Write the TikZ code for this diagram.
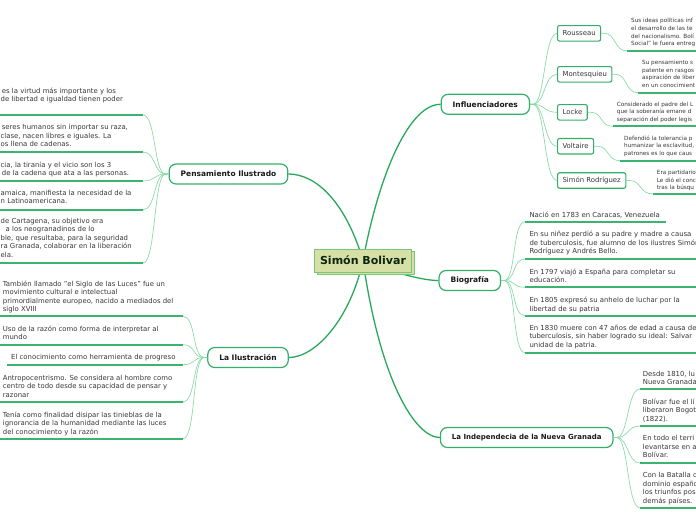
\documentclass[tikz,border=0pt]{standalone}
\usepackage{fontspec}
\setmainfont{DejaVu Sans}
\usetikzlibrary{positioning,shadows}
\definecolor{branchcolor}{RGB}{40,168,92}
\definecolor{nodecolor}{RGB}{50,176,104}
\definecolor{twigcolor}{RGB}{140,218,170}
\definecolor{basecolor}{RGB}{58,180,110}
\definecolor{leaftext}{RGB}{55,55,55}
\definecolor{rootfill}{RGB}{214,224,166}
\definecolor{rootedge}{RGB}{120,196,120}
\definecolor{roottext}{RGB}{12,36,12}
\tikzset{
  rootbox/.style={draw=rootedge, fill=rootfill, line width=1pt, inner sep=0pt,
    minimum width=97pt, minimum height=23pt, text=roottext,
    font=\fontsize{11}{13}\selectfont\bfseries,
    copy shadow={shadow xshift=2.5pt, shadow yshift=-2.5pt}},
  topicbox/.style={draw=nodecolor, fill=white, line width=1.2pt, rounded corners=7pt,
    minimum height=20pt, inner xsep=11.5pt, text=black!90,
    font=\fontsize{7.5}{9}\selectfont\bfseries},
  namebox/.style={draw=nodecolor, fill=white, line width=1.1pt, rounded corners=2pt,
    minimum height=15.5pt, inner xsep=5pt, anchor=west, text=leaftext,
    font=\fontsize{6.9}{8.5}\selectfont},
  leaf/.style={inner sep=0pt, align=left, anchor=north west, text=leaftext,
    font=\fontsize{6.9}{8.5}\selectfont},
  noteleaf/.style={leaf, font=\fontsize{5.7}{7.7}\selectfont},
  branchln/.style={line width=1.3pt, branchcolor},
  twigln/.style={line width=0.7pt, twigcolor},
  baseln/.style={line width=1.8pt, basecolor},
}
\newcommand{\rtwig}[2]{%
  \draw[twigln] (#1) -- ++(3,0) .. controls +(12,0) and +(-13,0) .. (#2);
}
\newcommand{\ltwig}[2]{%
  \draw[twigln] (#1) -- ++(-3,0) .. controls +(-12,0) and +(13,0) .. (#2);
}

\begin{document}
\begin{tikzpicture}[x=1pt, y=-1pt]
    \useasboundingbox (0,0) rectangle (696,520);
    \clip (0,0) rectangle (696,520);
    \coordinate (hub) at (363,260.5);
    % main topics
    \node[topicbox] (infl) at (485.3,104.3) {Influenciadores};
    \node[topicbox] (pens) at (228.5,174) {Pensamiento Ilustrado};
    \node[topicbox] (ilus) at (248,357.5) {La Ilustración};
    \node[topicbox] (biog) at (469.8,280.5) {Biografía};
    \node[topicbox, font=\fontsize{7}{9}\selectfont\bfseries] (indep) at (526.7,437.5)
      {La Independecia de la Nueva Granada};
    \draw[branchln] (hub) .. controls (380,170) and (410,104.3) .. (infl.west);
    \draw[branchln] (hub) .. controls (345,200) and (315,174) .. (pens.east);
    \draw[branchln] (hub) .. controls (350,320) and (315,357.5) .. (ilus.east);
    \draw[branchln] (hub) .. controls (400,275) and (425,280.5) .. (biog.west);
    \draw[branchln] (hub) .. controls (380,380) and (415,437.5) .. (indep.west);
    \node[rootbox] (root) at (hub) {Simón Bolivar};

    % influenciadores
    \node[namebox] (rous) at (557,33.3) {Rousseau};
    \node[namebox] (mont) at (557,74.3) {Montesquieu};
    \node[namebox] (lock) at (557,112.3) {Locke};
    \node[namebox] (volt) at (557,146.2) {Voltaire};
    \node[namebox] (srod) at (557,180.5) {Simón Rodríguez};
    \foreach \n in {rous,mont,lock,volt,srod} {\rtwig{infl.east}{\n.west}}
    \coordinate (rousu) at (627,51);
    \coordinate (montu) at (638,92.7);
    \coordinate (locku) at (612.7,126.3);
    \coordinate (voltu) at (620,160.7);
    \coordinate (srodu) at (652.7,194);
    \foreach \n in {rous,mont,lock,volt,srod} {
      \rtwig{\n.east}{\n u}
      \draw[baseln] (\n u) -- ++(100,0);
    }
    \node[noteleaf] (rousd) at (631,17.9) {Sus ideas políticas inf\\el desarrollo de las te\\del nacionalismo. Bolí\\Social" le fuera entreg};
    \node[noteleaf] (montd) at (642,59.9) {Su pensamiento s\\patente en rasgos\\aspiración de liber\\en un conocimient};
    \node[noteleaf] (lockd) at (616.7,101.5) {Considerado el padre del L\\que la soberanía emane d\\separación del poder legis};
    \node[noteleaf] (voltd) at (624,135.5) {Defendió la tolerancia p\\humanizar la esclavitud,\\patrones es lo que caus};
    \node[noteleaf] (srodd) at (656.7,169.9) {Era partidario\\Le dió el conc\\tras la búsqu};

    % pensamiento ilustrado
    \coordinate (p1u) at (143,115);
    \coordinate (p2u) at (143,152);
    \coordinate (p3u) at (143,181);
    \coordinate (p4u) at (143,209.7);
    \coordinate (p5u) at (143,263);
    \foreach \n in {p1u,p2u,p3u,p4u,p5u} {
      \ltwig{pens.west}{\n}
      \draw[baseln] (\n) -- ++(-150,0);
    }
    \node[leaf] (p1) at (0.5,87.3) {\hspace*{1.2pt}es la virtud más importante y los\\de libertad e igualdad tienen poder};
    \node[leaf] (p2) at (0.5,124.3) {\hspace*{1.2pt}seres humanos sin importar su raza,\\clase, nacen libres e iguales. La\\os llena de cadenas.};
    \node[leaf] (p3) at (0.5,161.3) {cia, la tiranía y el vicio son los 3\\\hspace*{1.2pt}de la cadena que ata a las personas.};
    \node[leaf] (p4) at (0.5,189.9) {amaica, manifiesta la necesidad de la\\n Latinoamericana.};
    \node[leaf] (p5) at (0.5,217.9) {de Cartagena, su objetivo era\\\hspace*{5pt}a los neogranadinos de lo\\ble, que resultaba, para la seguridad\\ra Granada, colaborar en la liberación\\ela.};

    % la ilustracion
    \coordinate (i1u) at (183,316.3);
    \coordinate (i2u) at (183,344.7);
    \coordinate (i3u) at (183,364.7);
    \coordinate (i4u) at (183,401.7);
    \coordinate (i5u) at (183,438.7);
    \foreach \n in {i1u,i2u,i3u,i4u,i5u} {\ltwig{ilus.west}{\n}}
    \foreach \n in {i1u,i2u,i4u,i5u} {\draw[baseln] (\n) -- ++(-190,0);}
    \draw[baseln] (i3u) -- ++(-176,0);
    \node[leaf] (i1) at (2.7,280.3) {También llamado "el Siglo de las Luces" fue un\\movimiento cultural e intelectual\\primordialmente europeo, nacido a mediados del\\siglo XVIII};
    \node[leaf] (i2) at (2.7,325.3) {Uso de la razón como forma de interpretar al\\mundo};
    \node[leaf] (i3) at (11,353.9) {El conocimiento como herramienta de progreso};
    \node[leaf] (i4) at (2.7,374.6) {Antropocentrismo. Se considera al hombre como\\centro de todo desde su capacidad de pensar y\\razonar};
    \node[leaf] (i5) at (2.7,411.3) {Tenía como finalidad disipar las tinieblas de la\\ignorancia de la humanidad mediante las luces\\del conocimiento y la razón};

    % biografia
    \coordinate (b1u) at (525,221.7);
    \coordinate (b2u) at (525,259);
    \coordinate (b3u) at (525,287.3);
    \coordinate (b4u) at (525,315.7);
    \coordinate (b5u) at (525,352.7);
    \foreach \n in {b1u,b2u,b3u,b4u,b5u} {\rtwig{biog.east}{\n}}
    \draw[baseln] (b1u) -- ++(141,0);
    \foreach \n in {b2u,b3u,b4u,b5u} {\draw[baseln] (\n) -- ++(180,0);}
    \node[leaf] (b1) at (529.3,211.3) {Nació en 1783 en Caracas, Venezuela};
    \node[leaf] (b2) at (529.3,230.9) {En su niñez perdió a su padre y madre a causa\\de tuberculosis, fue alumno de los ilustres Simón\\Rodríguez y Andrés Bello.};
    \node[leaf] (b3) at (529.3,268.3) {En 1797 viajó a España para completar su\\educación.};
    \node[leaf] (b4) at (529.3,296.9) {En 1805 expresó su anhelo de luchar por la\\libertad de su patria};
    \node[leaf] (b5) at (529.3,324.9) {En 1830 muere con 47 años de edad a causa de\\tuberculosis, sin haber logrado su ideal: Salvar\\unidad de la patria.};

    % independencia
    \coordinate (d1u) at (640,389);
    \coordinate (d2u) at (640,426);
    \coordinate (d3u) at (640,463);
    \coordinate (d4u) at (640,508);
    \foreach \n in {d1u,d2u,d3u,d4u} {
      \rtwig{indep.east}{\n}
      \draw[baseln] (\n) -- ++(80,0);
    }
    \node[leaf] (d1) at (642.7,370.6) {Desde 1810, lu\\Nueva Granada};
    \node[leaf] (d2) at (642.7,398.3) {Bolívar fue el lí\\liberaron Bogot\\(1822).};
    \node[leaf] (d3) at (642.7,435.3) {En todo el terri\\levantarse en a\\Bolívar.};
    \node[leaf] (d4) at (642.7,472.3) {Con la Batalla d\\dominio españo\\los triunfos pos\\demás países.};
  \end{tikzpicture}
\end{document}
